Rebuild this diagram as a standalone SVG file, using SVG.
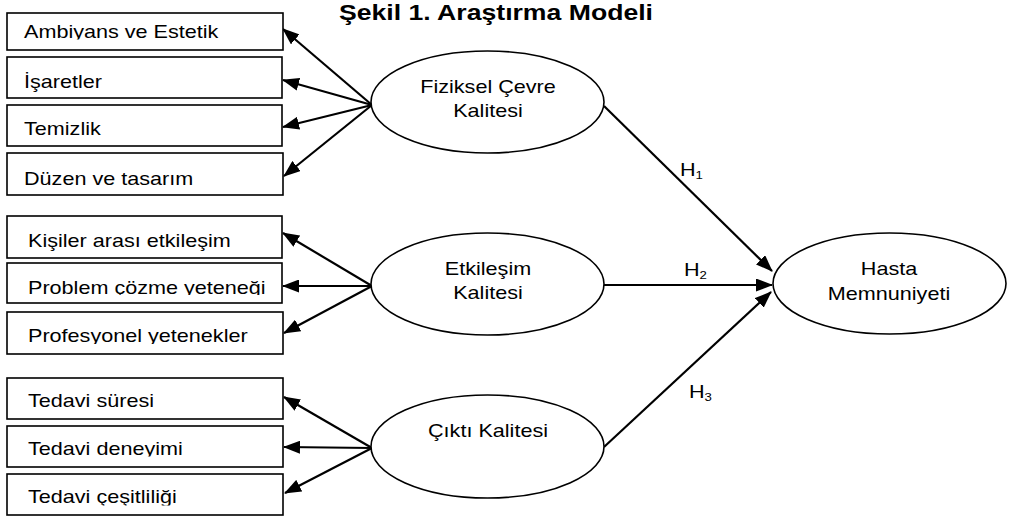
<svg xmlns="http://www.w3.org/2000/svg" width="1015" height="519" viewBox="0 0 1015 519">
<defs>
<marker id="ah" markerUnits="userSpaceOnUse" markerWidth="17" markerHeight="13" viewBox="0 0 17 13" refX="16" refY="6.5" orient="auto">
<path d="M0,0 L17,6.5 L0,13 z" fill="#000"/>
</marker>
<clipPath id="c1" clipPathUnits="userSpaceOnUse"><rect x="0" y="13" width="283" height="26.5"/></clipPath>
<clipPath id="c6" clipPathUnits="userSpaceOnUse"><rect x="0" y="263" width="283" height="32"/></clipPath>
<clipPath id="c7" clipPathUnits="userSpaceOnUse"><rect x="0" y="312" width="283" height="32"/></clipPath>
<clipPath id="c9" clipPathUnits="userSpaceOnUse"><rect x="0" y="426" width="283" height="30.5"/></clipPath>
<clipPath id="c10" clipPathUnits="userSpaceOnUse"><rect x="0" y="474" width="283" height="31.5"/></clipPath>
<style>
.box{fill:#fff;stroke:#000;stroke-width:1.6}
.ell{fill:#fff;stroke:#000;stroke-width:1.6}
.t{font-family:"Liberation Sans",Arial,sans-serif;font-size:18px;fill:#000}
.c{text-anchor:middle}
.sub{font-size:11px}
.title{font-family:"Liberation Sans",Arial,sans-serif;font-size:22px;font-weight:bold;fill:#000}
.ar{stroke:#000;stroke-width:2.2;fill:none;marker-end:url(#ah)}
</style>
</defs>
<rect width="1015" height="519" fill="#fff"/>
<text class="title" transform="translate(339,20) scale(1.21,1)">Şekil 1. Araştırma Modeli</text>

<g id="connectors">
<line class="ar" x1="372" y1="105" x2="283" y2="29"/>
<line class="ar" x1="372" y1="105" x2="283" y2="80"/>
<line class="ar" x1="372" y1="105" x2="283" y2="127"/>
<line class="ar" x1="372" y1="105" x2="284" y2="176"/>
<line class="ar" x1="372" y1="286" x2="283" y2="233"/>
<line class="ar" x1="372" y1="286" x2="283" y2="286"/>
<line class="ar" x1="372" y1="286" x2="284" y2="333"/>
<line class="ar" x1="372" y1="448" x2="284" y2="397"/>
<line class="ar" x1="372" y1="448" x2="284" y2="447"/>
<line class="ar" x1="372" y1="448" x2="285" y2="493"/>
<line class="ar" x1="604" y1="106" x2="772" y2="271"/>
<line class="ar" x1="604" y1="285" x2="772" y2="285"/>
<line class="ar" x1="604" y1="447" x2="771" y2="292"/>
<text class="t" transform="translate(680,176) scale(1.2,1)">H<tspan class="sub" dy="3">1</tspan></text>
<text class="t" transform="translate(684,276) scale(1.2,1)">H<tspan class="sub" dy="3">2</tspan></text>
<text class="t" transform="translate(689,398) scale(1.2,1)">H<tspan class="sub" dy="3">3</tspan></text>
</g>

<g id="n-ambiyans"><rect class="box" x="7" y="13" width="276" height="37"/><g clip-path="url(#c1)"><text class="t" transform="translate(24,38) scale(1.2,1)">Ambiyans ve Estetik</text></g></g>
<g id="n-isaretler"><rect class="box" x="7" y="57" width="275" height="41"/><text class="t" transform="translate(24,88) scale(1.2,1)">İşaretler</text></g>
<g id="n-temizlik"><rect class="box" x="7" y="105" width="275" height="41"/><text class="t" transform="translate(24,135) scale(1.2,1)">Temizlik</text></g>
<g id="n-duzen"><rect class="box" x="7" y="153" width="276" height="42"/><text class="t" transform="translate(24,185) scale(1.2,1)">Düzen ve tasarım</text></g>
<g id="n-kisiler"><rect class="box" x="7" y="216" width="275" height="42"/><text class="t" transform="translate(28,247) scale(1.2,1)">Kişiler arası etkileşim</text></g>
<g id="n-problem"><rect class="box" x="7" y="263" width="275" height="40"/><g clip-path="url(#c6)"><text class="t" transform="translate(28,293.5) scale(1.2,1)">Problem çözme yeteneği</text></g></g>
<g id="n-profesyonel"><rect class="box" x="7" y="312" width="276" height="42"/><g clip-path="url(#c7)"><text class="t" transform="translate(28,342) scale(1.2,1)">Profesyonel yetenekler</text></g></g>
<g id="n-sure"><rect class="box" x="7" y="378" width="276" height="41"/><text class="t" transform="translate(28,407) scale(1.2,1)">Tedavi süresi</text></g>
<g id="n-deneyim"><rect class="box" x="7" y="426" width="276" height="41"/><g clip-path="url(#c9)"><text class="t" transform="translate(28,455) scale(1.2,1)">Tedavi deneyimi</text></g></g>
<g id="n-cesit"><rect class="box" x="7" y="474" width="276" height="41"/><g clip-path="url(#c10)"><text class="t" transform="translate(28,503) scale(1.2,1)">Tedavi çeşitliliği</text></g></g>

<g id="n-fiziksel"><ellipse class="ell" cx="487.5" cy="102" rx="116.5" ry="51"/>
<text class="t c" transform="translate(488,93) scale(1.2,1)">Fiziksel Çevre</text>
<text class="t c" transform="translate(488,117) scale(1.2,1)">Kalitesi</text></g>
<g id="n-etkilesim"><ellipse class="ell" cx="487.5" cy="284" rx="116.5" ry="51"/>
<text class="t c" transform="translate(488,275) scale(1.2,1)">Etkileşim</text>
<text class="t c" transform="translate(488,299) scale(1.2,1)">Kalitesi</text></g>
<g id="n-cikti"><ellipse class="ell" cx="487.5" cy="446.5" rx="116.5" ry="51.5"/>
<text class="t c" transform="translate(488,437) scale(1.2,1)">Çıktı Kalitesi</text></g>
<g id="n-hasta"><ellipse class="ell" cx="889.5" cy="283.5" rx="116.5" ry="50.5"/>
<text class="t c" transform="translate(889,275) scale(1.2,1)">Hasta</text>
<text class="t c" transform="translate(889,300) scale(1.2,1)">Memnuniyeti</text></g>
</svg>
